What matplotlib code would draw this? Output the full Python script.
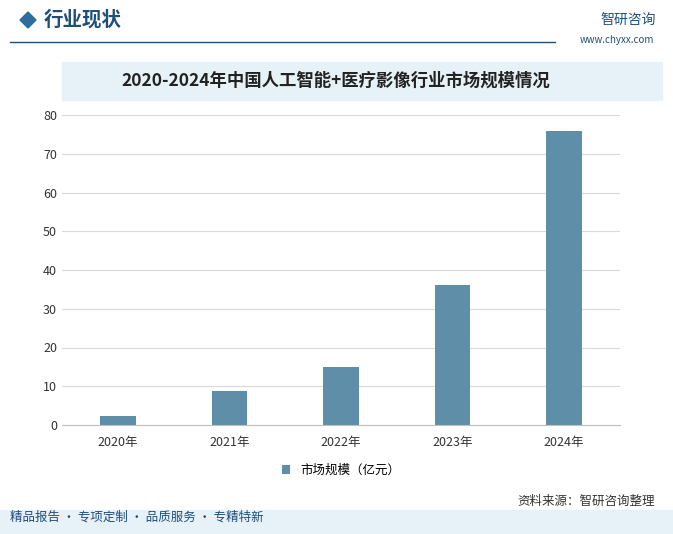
import matplotlib
matplotlib.use("Agg")
import matplotlib.pyplot as plt
from matplotlib.patches import Rectangle, Polygon

plt.rcParams['font.family'] = ['Noto Sans CJK SC']

years = ["2020年", "2021年", "2022年", "2023年", "2024年"]
values = [2.2, 8.7, 15.0, 36.2, 76.0]
yticks = [0, 10, 20, 30, 40, 50, 60, 70, 80]
title = "2020-2024年中国人工智能+医疗影像行业市场规模情况"
series_name = "市场规模（亿元）"

W, H = 673, 534
fig = plt.figure(figsize=(W/100, H/100), dpi=100)
fig.patch.set_facecolor("white")

def fx(x): return x / W
def fy(y): return 1 - y / H

# header
fig.patches.append(Polygon([[fx(20), fy(20)], [fx(28), fy(12)], [fx(36), fy(20)], [fx(28), fy(28)]],
                           closed=True, transform=fig.transFigure, color="#2e6e9e"))
fig.text(fx(44), fy(20), "行业现状", fontsize=14, fontweight="bold", color="#1f4e79", va="center")
fig.add_artist(plt.Line2D([fx(10), fx(555)], [fy(42), fy(42)], transform=fig.transFigure, color="#1f4e79", lw=1))
fig.text(fx(600), fy(20), "智研咨询", fontsize=10, color="#1f4e79", va="center")
fig.text(fx(580), fy(40), "www.chyxx.com", fontsize=7, color="#1f4e79", va="center")

# title band
fig.patches.append(Rectangle((fx(62), fy(100)), fx(600), 38/H, transform=fig.transFigure, color="#e6f1f8", zorder=0))
fig.text(fx(336), fy(81), title, fontsize=12.5, fontweight="bold", color="#222222", ha="center", va="center")

ax = fig.add_axes([fx(62), fy(425), fx(558), (425-115)/H])
x = range(len(years))
bars = ax.bar(x, values, width=0.32, color="#5f8fa8", label=series_name, zorder=2)
ax.set_ylim(0, 80)
ax.set_yticks(yticks)
ax.set_xticks(list(x))
ax.set_xticklabels(years)
ax.set_xlim(-0.5, 4.5)
ax.grid(axis="y", color="#d9d9d9", lw=0.8, zorder=0)
for s in ["top", "right", "left"]:
    ax.spines[s].set_visible(False)
ax.spines["bottom"].set_color("#bfbfbf")
ax.tick_params(axis="both", length=0, labelsize=9, colors="#333333")
ax.tick_params(axis="x", pad=8)
ax.legend(loc="upper center", bbox_to_anchor=(0.5, -0.09), frameon=False, fontsize=9,
          handlelength=0.7, handleheight=0.7)

# footer
fig.text(fx(655), fy(501), "资料来源：智研咨询整理", fontsize=9, color="#333333", ha="right", va="center")
fig.patches.append(Rectangle((0, 0), 1, 24/H, transform=fig.transFigure, color="#e6f1f8", zorder=0))
fig.text(fx(10), fy(517), "精品报告 · 专项定制 · 品质服务 · 专精特新", fontsize=9, color="#1f4e79", va="center")

fig.savefig("out.png", dpi=100)
